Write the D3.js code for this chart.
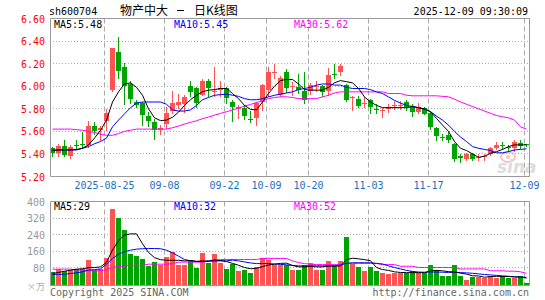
<!DOCTYPE html>
<html>
<head>
<meta charset="utf-8">
<script src="https://cdn.jsdelivr.net/npm/d3@7"></script>
<style>
    body { margin: 0; background: #fff; }
    svg { display: block; }
    text { font-family: "DejaVu Sans Mono", monospace; font-size: 10px; }
</style>
</head>
<body>
<svg id="kline" width="545" height="300"></svg>
<script>
// trading days 2025-08-12 .. 2025-12-09
var dates = ["08-12","08-13","08-14","08-15","08-18","08-19","08-20","08-21","08-22","08-25","08-26","08-27","08-28","08-29",
    "09-01","09-02","09-03","09-04","09-05","09-08","09-09","09-10","09-11","09-12","09-15","09-16","09-17","09-18","09-19",
    "09-22","09-23","09-24","09-25","09-26","09-29","09-30",
    "10-09","10-10","10-13","10-14","10-15","10-16","10-17","10-20","10-21","10-22","10-23","10-24","10-27","10-28","10-29","10-30","10-31",
    "11-03","11-04","11-05","11-06","11-07","11-10","11-11","11-12","11-13","11-14","11-17","11-18","11-19","11-20","11-21",
    "11-24","11-25","11-26","11-27","11-28","12-01","12-02","12-03","12-04","12-05","12-08","12-09"];

var opens = [5.45,5.41,5.47,5.38,5.48,5.49,5.48,5.65,5.61,5.69,5.97,6.30,6.17,6.02,5.86,5.85,5.74,5.68,5.61,5.66,
    5.78,5.83,5.84,6.00,5.98,5.93,6.05,5.95,5.96,5.98,5.86,5.80,5.81,5.71,5.72,5.86,5.97,6.12,5.92,6.13,
    5.99,5.99,5.96,5.96,6.00,6.00,5.96,6.11,6.13,6.01,5.89,5.89,5.84,5.88,5.80,5.78,5.80,5.82,5.82,5.86,
    5.82,5.78,5.81,5.76,5.63,5.55,5.57,5.49,5.38,5.36,5.40,5.37,5.375,5.40,5.45,5.48,5.46,5.46,5.50,5.49];
var highs = [5.46,5.49,5.52,5.48,5.52,5.59,5.69,5.68,5.65,5.80,6.34,6.44,6.21,6.05,5.88,5.86,5.77,5.71,5.66,5.82,
    5.96,5.93,5.92,6.05,5.99,6.06,6.06,6.17,6.05,5.99,5.88,5.83,5.83,5.78,5.86,6.02,6.17,6.20,6.09,6.15,
    6.04,6.11,6.13,6.03,6.05,6.01,6.16,6.20,6.20,6.02,5.91,5.91,5.90,5.89,5.84,5.81,5.84,5.87,5.87,5.88,
    5.84,5.85,5.82,5.77,5.64,5.58,5.59,5.50,5.40,5.41,5.41,5.40,5.40,5.46,5.51,5.51,5.48,5.52,5.52,5.49];
var lows = [5.38,5.38,5.38,5.36,5.44,5.45,5.46,5.58,5.52,5.61,5.96,6.07,5.84,5.85,5.82,5.66,5.65,5.53,5.58,5.63,
    5.76,5.81,5.77,5.91,5.82,5.92,5.91,5.91,5.91,5.85,5.69,5.72,5.71,5.68,5.66,5.79,5.91,6.07,5.91,5.95,
    5.92,5.94,5.85,5.93,5.96,5.91,5.92,6.07,6.10,5.87,5.79,5.82,5.82,5.76,5.76,5.73,5.77,5.80,5.80,5.79,
    5.74,5.76,5.75,5.62,5.52,5.52,5.51,5.34,5.33,5.35,5.35,5.35,5.35,5.39,5.44,5.44,5.43,5.43,5.45,5.47];
var closes = [5.41,5.47,5.39,5.46,5.475,5.48,5.65,5.61,5.63,5.76,6.34,6.13,6.00,5.89,5.83,5.74,5.70,5.61,5.63,5.76,
    5.85,5.86,5.90,5.95,5.85,6.05,5.99,5.96,5.98,5.89,5.82,5.82,5.74,5.70,5.85,6.01,6.13,6.13,6.07,5.99,
    6.00,5.96,5.88,6.01,6.005,5.95,6.10,6.105,6.18,5.88,5.90,5.83,5.85,5.82,5.795,5.785,5.82,5.83,5.83,5.82,
    5.78,5.82,5.76,5.64,5.56,5.545,5.53,5.36,5.36,5.40,5.36,5.375,5.38,5.45,5.48,5.475,5.455,5.51,5.47,5.48];

var ma5 = [5.43,5.435,5.435,5.435,5.44,5.45,5.48,5.54,5.61,5.70,5.86,5.95,6.02,6.03,5.99,5.92,5.80,5.72,5.695,5.70,
    5.725,5.77,5.83,5.88,5.92,5.95,5.965,5.97,5.98,5.98,5.935,5.89,5.83,5.795,5.79,5.86,5.935,6.00,6.05,6.06,
    6.06,6.02,5.97,5.965,5.965,5.965,5.99,6.03,6.05,6.04,6.03,5.98,5.905,5.86,5.83,5.81,5.81,5.81,5.81,5.81,
    5.82,5.81,5.80,5.775,5.715,5.655,5.60,5.51,5.45,5.43,5.40,5.37,5.38,5.405,5.42,5.44,5.465,5.48,5.48,5.48];
var ma10 = [5.435,5.435,5.435,5.435,5.435,5.45,5.465,5.49,5.51,5.54,5.64,5.70,5.755,5.81,5.85,5.86,5.86,5.86,5.86,5.84,
    5.79,5.78,5.78,5.79,5.83,5.88,5.90,5.92,5.925,5.93,5.92,5.91,5.89,5.88,5.88,5.89,5.905,5.92,5.93,5.94,
    5.95,5.97,5.98,5.99,6.01,6.02,6.02,6.01,6.01,5.99,5.98,5.98,5.98,5.97,5.95,5.935,5.905,5.875,5.85,5.83,
    5.82,5.81,5.795,5.775,5.735,5.70,5.655,5.60,5.55,5.51,5.465,5.45,5.44,5.43,5.41,5.41,5.42,5.435,5.44,5.445];
var ma30 = [5.62,5.62,5.62,5.62,5.615,5.61,5.60,5.59,5.575,5.565,5.565,5.58,5.60,5.61,5.62,5.62,5.62,5.62,5.62,5.62,
    5.632,5.647,5.665,5.68,5.694,5.712,5.726,5.744,5.759,5.774,5.79,5.806,5.824,5.838,5.856,5.87,5.89,5.90,5.906,5.906,
    5.90,5.89,5.89,5.89,5.89,5.905,5.92,5.94,5.95,5.95,5.95,5.95,5.95,5.95,5.95,5.95,5.935,5.935,5.935,5.92,
    5.915,5.915,5.915,5.915,5.915,5.91,5.906,5.885,5.86,5.84,5.82,5.80,5.78,5.76,5.74,5.73,5.72,5.70,5.64,5.62];

// volume, 万手
var volumes = [59,75,64,67,72,72,116,67,73,127,364,322,262,145,135,120,86,106,90,132,
    155,91,91,116,80,151,103,145,101,73,96,64,67,54,81,124,116,91,91,94,
    67,67,94,104,67,67,111,86,111,228,99,81,62,81,62,51,47,55,55,51,
    62,51,51,91,67,38,38,91,38,21,33,33,31,41,31,37,31,31,37,6];
var volMa5 = [51,56,62,67,72,74,79,80,83,105,165,210,238,243,243,195,153,128,118,115,
    115,115,112,114,110,112,110,117,114,109,100,91,80,74,76,84,92,96,100,101,
    90,83,83,85,83,83,87,87,87,118,125,122,118,113,80,70,66,59,56,55,
    55,55,55,64,66,64,60,58,53,48,40,39,33,36,37,37,37,34,34,29];
var volMa10 = [46,47,47,51,54,59,67,70,73,96,124,145,156,164,169,171,172,172,171,164,
    151,135,119,112,109,109,112,111,112,112,116,112,107,102,99,99,99,97,95,93,
    90,88,88,88,88,88,88,88,92,100,103,103,103,103,100,97,88,80,73,66,
    61,58,57,58,58,57,56,57,55,54,52,49,46,44,42,39,37,35,34,32];
var volMa30 = [72,72,72,72,67,67,64,64,64,70,80,86,86,91,91,91,96,96,96,96,
    99,106,106,106,106,106,112,112,119,119,119,119,119,119,119,124,124,124,124,124,
    112,104,99,96,94,94,94,94,94,100,100,100,100,100,100,94,94,94,86,86,
    86,80,80,80,80,80,80,80,73,73,73,73,73,64,64,64,62,62,59,52];

var priceTicks = [5.20, 5.40, 5.60, 5.80, 6.00, 6.20, 6.40, 6.60];
var volTicks = [80, 160, 240, 320, 400];
var tickDates = ["08-25", "09-08", "09-22", "10-09", "10-20", "11-03", "11-17", "12-09"];
var tickLabels = ["2025-08-25", "09-08", "09-22", "10-09", "10-20", "11-03", "11-17", "12-09"];

var RED = "#ff5252", GREEN = "#00a400";
var left = 50, right = 529;

var svg = d3.select("#kline");

var x = d3.scaleBand()
    .domain(dates)
    .range([left, right])
    .paddingInner(1 / 6)
    .paddingOuter(0);

var y = d3.scaleLinear().domain([5.2, 6.6]).range([176.5, 18.5]);
var vy = d3.scaleLinear().domain([0, 400]).range([284, 201.5]);
var volBottom = 285.5;

function crisp(v) { return Math.round(v - 0.5) + 0.5; }
function cx(i) { return x(dates[i]) + 2.5; }
function colorOf(i) { return closes[i] >= opens[i] ? RED : GREEN; }

// ---- header
svg.append("text").attr("x", 49).attr("y", 15).attr("fill", "#000").text("sh600704");
svg.append("text").attr("x", 120).attr("y", 15)
    .style("font-family", "'Noto Sans CJK SC'").style("font-size", "12px").text("物产中大");
svg.append("line").attr("x1", 177).attr("x2", 184).attr("y1", 10.5).attr("y2", 10.5).attr("stroke", "#000");
svg.append("text").attr("x", 194).attr("y", 15)
    .style("font-family", "'Noto Sans CJK SC'").style("font-size", "12px").text("日K线图");
svg.append("text").attr("x", 528).attr("y", 15).attr("text-anchor", "end").text("2025-12-09 09:30:09");

// ---- grid: price panel
var gMain = svg.append("g");

gMain.selectAll(".hgrid").data(priceTicks.slice(1, -1)).enter().append("line")
    .attr("x1", left).attr("x2", right)
    .attr("y1", function (d) { return crisp(y(d)); })
    .attr("y2", function (d) { return crisp(y(d)); })
    .attr("stroke", "#aaa").attr("stroke-dasharray", "1,2");

gMain.selectAll(".vgrid").data(tickDates).enter().append("line")
    .attr("x1", function (d) { return x(d) + 0.5; })
    .attr("x2", function (d) { return x(d) + 0.5; })
    .attr("y1", 18.5).attr("y2", 176.5)
    .attr("stroke", "#aaa").attr("stroke-dasharray", "5,3");

// sina watermark
var logo = gMain.append("g").attr("opacity", 0.6);
logo.append("ellipse").attr("cx", 508).attr("cy", 157).attr("rx", 7).attr("ry", 5)
    .attr("fill", "none").attr("stroke", "#f2a0a0").attr("stroke-width", 2);
logo.append("circle").attr("cx", 508).attr("cy", 157).attr("r", 2).attr("fill", "#f2a0a0");
logo.append("text").attr("x", 497).attr("y", 173)
    .style("font-family", "'DejaVu Sans'").style("font-size", "17px")
    .style("font-weight", "bold").style("font-style", "italic")
    .attr("fill", "#c8c8c8").text("sina");

// candles
var candles = gMain.selectAll(".candle").data(dates).enter().append("g");
candles.append("line")
    .attr("x1", function (d, i) { return cx(i); })
    .attr("x2", function (d, i) { return cx(i); })
    .attr("y1", function (d, i) { return Math.round(y(highs[i])); })
    .attr("y2", function (d, i) { return Math.round(y(lows[i])) + 1; })
    .attr("stroke", function (d, i) { return colorOf(i); });
candles.append("rect")
    .attr("x", function (d) { return x(d); })
    .attr("width", x.bandwidth())
    .attr("y", function (d, i) { return Math.round(y(Math.max(opens[i], closes[i]))); })
    .attr("height", function (d, i) {
        return Math.max(1, Math.round(Math.abs(y(opens[i]) - y(closes[i]))));
    })
    .attr("fill", function (d, i) { return colorOf(i); });

// moving averages
var priceLine = d3.line()
    .x(function (d, i) { return cx(i); })
    .y(function (d) { return y(d); });
[[ma30, "#ff00ff"], [ma10, "#0000ff"], [ma5, "#000"]].forEach(function (s) {
    gMain.append("path").attr("d", priceLine(s[0]))
        .attr("fill", "none").attr("stroke", s[1]).attr("stroke-width", 1);
});

// frame
gMain.append("path")
    .attr("d", "M" + (left + 0.5) + ",18.5H" + (right + 0.5) + "V176.5H" + (left + 0.5) + "Z")
    .attr("fill", "none").attr("stroke", "#999");

// y labels
gMain.selectAll(".plab").data(priceTicks).enter().append("text")
    .attr("x", 45).attr("y", function (d) { return y(d) + 4; })
    .attr("text-anchor", "end").attr("fill", "#f00")
    .text(function (d) { return d.toFixed(2); });

// x labels
gMain.selectAll(".xlab").data(tickDates).enter().append("text")
    .attr("x", function (d) { return x(d) + 0.5; })
    .attr("y", 189)
    .attr("text-anchor", "middle").attr("fill", "#1a6fc4")
    .text(function (d, i) { return tickLabels[i]; });

// legend
function legend(g, yy, items) {
    var xs = [54, 174, 294];
    items.forEach(function (it, i) {
        g.append("text").attr("x", xs[i]).attr("y", yy).attr("fill", it[1]).text(it[0]);
    });
}
legend(gMain, 28, [
    ["MA5:" + ma5[ma5.length - 1].toFixed(2), "#000"],
    ["MA10:" + ma10[ma10.length - 1].toFixed(2), "#0000ff"],
    ["MA30:" + ma30[ma30.length - 1].toFixed(2), "#ff00ff"]
]);

// ---- volume panel
var gVol = svg.append("g");

gVol.selectAll(".hgrid").data(volTicks.slice(0, -1)).enter().append("line")
    .attr("x1", left).attr("x2", right)
    .attr("y1", function (d) { return crisp(vy(d)); })
    .attr("y2", function (d) { return crisp(vy(d)); })
    .attr("stroke", "#aaa").attr("stroke-dasharray", "1,2");

gVol.selectAll(".vgrid").data(tickDates).enter().append("line")
    .attr("x1", function (d) { return x(d) + 0.5; })
    .attr("x2", function (d) { return x(d) + 0.5; })
    .attr("y1", 201.5).attr("y2", volBottom)
    .attr("stroke", "#aaa").attr("stroke-dasharray", "5,3");

gVol.selectAll(".bar").data(dates).enter().append("rect")
    .attr("x", function (d) { return x(d); })
    .attr("width", x.bandwidth())
    .attr("y", function (d, i) { return Math.round(vy(volumes[i])); })
    .attr("height", function (d, i) { return volBottom - Math.round(vy(volumes[i])); })
    .attr("fill", function (d, i) { return colorOf(i); });

var volLine = d3.line()
    .x(function (d, i) { return cx(i); })
    .y(function (d) { return vy(d); });
[[volMa30, "#ff00ff"], [volMa10, "#0000ff"], [volMa5, "#000"]].forEach(function (s) {
    gVol.append("path").attr("d", volLine(s[0]))
        .attr("fill", "none").attr("stroke", s[1]).attr("stroke-width", 1);
});

gVol.append("path")
    .attr("d", "M" + (left + 0.5) + ",201.5H" + (right + 0.5) + "V" + volBottom + "H" + (left + 0.5) + "Z")
    .attr("fill", "none").attr("stroke", "#999");

gVol.selectAll(".vlab").data(volTicks).enter().append("text")
    .attr("x", 45).attr("y", function (d) { return vy(d) + 4; })
    .attr("text-anchor", "end").attr("fill", "#999")
    .text(function (d) { return d; });
gVol.append("text").attr("x", 45).attr("y", 290).attr("text-anchor", "end")
    .style("font-family", "'Noto Sans CJK SC'").style("font-size", "9px")
    .attr("fill", "#aaa").text("×万");

legend(gVol, 210, [
    ["MA5:" + volMa5[volMa5.length - 1], "#000"],
    ["MA10:" + volMa10[volMa10.length - 1], "#0000ff"],
    ["MA30:" + volMa30[volMa30.length - 1], "#ff00ff"]
]);

// footer
svg.append("text").attr("x", 50).attr("y", 296).attr("fill", "#666").text("Copyright 2025 SINA.COM");
svg.append("text").attr("x", 529).attr("y", 296).attr("text-anchor", "end").attr("fill", "#666")
    .text("http://finance.sina.com.cn");
</script>
</body>
</html>
